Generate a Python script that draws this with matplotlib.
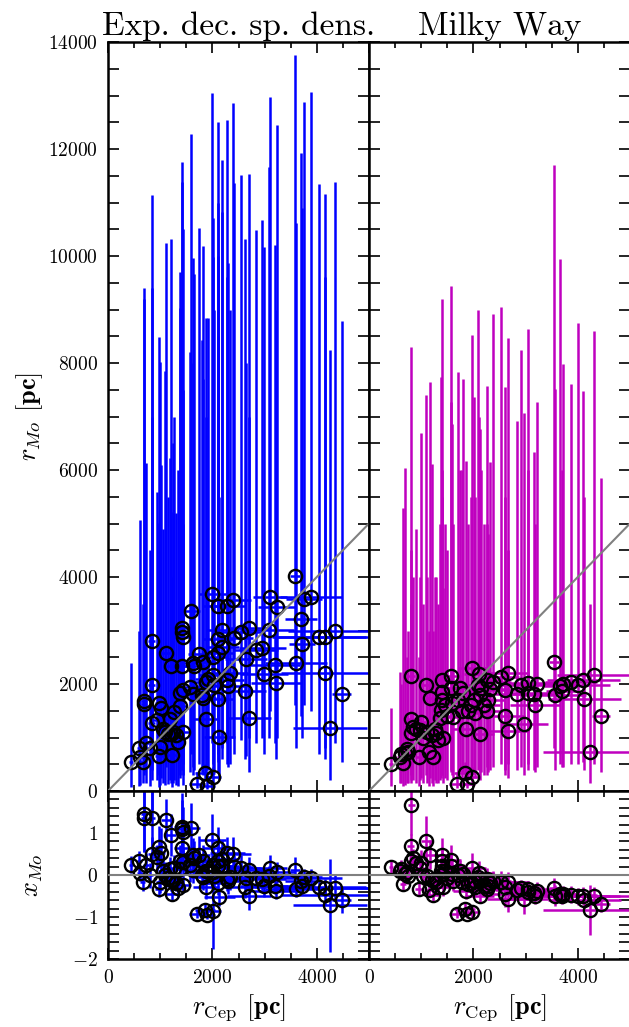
import numpy as np
import matplotlib
matplotlib.use('Agg')
from matplotlib import pyplot as plt
from matplotlib.ticker import MultipleLocator

plt.rcParams['font.family'] = 'serif'
plt.rcParams['font.serif'] = ['cmr10']
plt.rcParams['mathtext.fontset'] = 'cm'
plt.rcParams['axes.formatter.use_mathtext'] = True

# --- left panel: exponentially decaying spatial density ---
rcep_L = [441, 600, 613, 664, 690, 690, 722, 805, 837, 837,
          837, 933, 977, 983, 996, 1010, 1050, 1100, 1111, 1150,
          1188, 1201, 1207, 1220, 1250, 1265, 1300, 1348, 1380, 1380,
          1412, 1412, 1424, 1431, 1431, 1431, 1571, 1584, 1622, 1623,
          1654, 1699, 1743, 1795, 1826, 1826, 1858, 1878, 1878, 1891,
          1920, 1999, 2006, 2018, 2018, 2031, 2101, 2115, 2115, 2115,
          2133, 2190, 2190, 2274, 2287, 2305, 2338, 2388, 2421, 2549,
          2625, 2638, 2709, 2709, 2835, 2957, 2995, 3091, 3104, 3199,
          3213, 3232, 3583, 3602, 3698, 3723, 3755, 3889, 4048, 4158,
          4158, 4253, 4349, 4477]
rmo_L = [548, 798, 641, 548, 1688, 1620, 891, 798, 1265, 1975,
         2809, 1327, 654, 1639, 829, 1545, 1150, 1100, 2573, 1060,
         1346, 2336, 1059, 673, 1100, 1477, 1050, 921, 1589, 1826,
         2336, 3041, 2977, 2884, 1097, 1888, 1949, 3364, 2398, 1807,
         2342, 125, 2560, 1794, 1732, 2417, 331, 2043, 1346, 99,
         2100, 3682, 268, 2168, 2510, 1981, 1713, 3458, 2835, 2573,
         1003, 3009, 2685, 2075, 3458, 1968, 2212, 3570, 2865, 2977,
         1869, 2467, 3052, 1370, 2635, 2667, 2181, 3009, 3620, 2355,
         2024, 3433, 4024, 2398, 3209, 2747, 3583, 3632, 2884, 2884,
         2212, 1172, 2996, 1807]
top_L = [2400, 3000, 5065, 3500, 9396, 9200, 6130, 4500, 9396, 11139,
         7000, 5594, 5009, 8491, 8024, 6093, 4891, 7850, 10236, 5500,
         6218, 10311, 5220, 4000, 6500, 7000, 5200, 6000, 9022, 9706,
         8000, 11762, 11388, 10500, 5000, 7500, 8211, 12273, 9956, 8000,
         9657, 350, 10529, 8429, 7700, 10186, 500, 8835, 7000, 300,
         8835, 13040, 450, 9987, 10703, 9000, 8500, 12510, 11000, 10000,
         5500, 11793, 10828, 9613, 12541, 9862, 9000, 12853, 11357, 11513,
         10311, 8000, 11526, 7000, 10485, 10672, 10162, 11669, 12963, 10205,
         9000, 12448, 13757, 10623, 11918, 10903, 12884, 13060, 11339, 11158,
         9613, 8242, 11388, 8790]
bot_L = [80, 100, 120, 150, 300, 350, 150, 100, 200, 400,
         500, 200, 80, 300, 120, 250, 150, 120, 450, 130,
         200, 400, 150, 80, 150, 200, 120, 100, 250, 300,
         400, 600, 550, 500, 120, 300, 350, 700, 450, 300,
         400, 60, 500, 350, 300, 450, 200, 400, 250, 40,
         400, 900, 150, 400, 500, 350, 350, 1000, 700, 550,
         200, 800, 600, 500, 900, 450, 500, 1000, 700, 950,
         600, 650, 1000, 350, 900, 1000, 700, 1000, 1500, 900,
         600, 1000, 1600, 800, 1400, 1000, 1600, 1500, 700, 800,
         600, 200, 900, 550]
xerr_L = [40, 50, 50, 50, 60, 60, 60, 60, 70, 70,
          70, 80, 80, 80, 80, 90, 90, 100, 100, 100,
          100, 110, 110, 110, 120, 120, 120, 130, 140, 140,
          150, 150, 150, 150, 150, 150, 180, 180, 200, 200,
          200, 150, 220, 230, 240, 240, 200, 250, 250, 150,
          250, 260, 150, 280, 280, 280, 300, 300, 300, 300,
          300, 320, 320, 340, 340, 350, 350, 360, 360, 380,
          400, 400, 420, 420, 430, 450, 460, 480, 330, 480,
          480, 350, 100, 600, 300, 250, 350, 600, 900, 900,
          850, 700, 900, 180]
xmoerr_L = [0.2, 0.25, 0.2, 0.2, 0.9, 0.8, 0.3, 0.3, 0.4, 0.7,
            0.8, 0.3, 0.2, 0.5, 0.25, 0.6, 0.3, 0.3, 0.5, 0.2,
            0.3, 0.5, 0.25, 0.15, 0.2, 0.3, 0.2, 0.2, 0.35, 0.4,
            0.4, 0.8, 0.7, 0.6, 0.2, 0.35, 0.4, 0.6, 0.4, 0.3,
            0.4, 0.1, 0.45, 0.3, 0.3, 0.4, 0.15, 0.3, 0.3, 0.1,
            0.3, 0.6, 0.9, 0.35, 0.4, 0.3, 0.3, 0.5, 0.45, 0.4,
            0.2, 0.45, 0.4, 0.3, 0.4, 0.3, 0.3, 0.4, 0.3, 0.3,
            0.25, 0.3, 0.3, 0.35, 0.25, 0.25, 0.25, 0.25, 0.3, 0.2,
            0.2, 0.25, 0.3, 0.2, 0.2, 0.2, 0.2, 0.2, 0.2, 0.2,
            0.25, 1.1, 0.3, 0.3]

# --- right panel: Milky Way model ---
rcep_R = [415, 588, 610, 651, 684, 720, 747, 798, 811, 811,
          850, 900, 952, 971, 1003, 1030, 1100, 1120, 1150, 1175,
          1200, 1226, 1260, 1322, 1355, 1374, 1399, 1399, 1399, 1450,
          1500, 1577, 1577, 1590, 1609, 1692, 1700, 1738, 1801, 1833,
          1853, 1878, 1900, 1973, 1973, 2012, 2025, 2088, 2108, 2121,
          2121, 2152, 2200, 2266, 2266, 2280, 2325, 2376, 2523, 2600,
          2605, 2670, 2670, 2830, 2918, 2976, 3052, 3052, 3167, 3181,
          3213, 3545, 3564, 3660, 3692, 3724, 3870, 4011, 4107, 4126,
          4234, 4311, 4445, 1290, 1420, 1780, 1950]
rmo_R = [498, 641, 700, 517, 704, 780, 735, 1340, 2155, 1078,
         1200, 1150, 641, 1140, 1296, 1000, 1981, 1100, 735, 1744,
         1050, 641, 1150, 953, 1358, 1514, 2075, 1856, 1701, 1600,
         1400, 2155, 1919, 1639, 1389, 125, 1700, 1919, 1826, 331,
         1153, 125, 1500, 256, 2304, 1701, 1464, 1981, 2187, 1794,
         1071, 1919, 1600, 2075, 1501, 1701, 1900, 2031, 2125, 1402,
         1888, 2200, 1127, 1813, 1981, 1252, 2024, 1838, 1813, 1607,
         2000, 2417, 1794, 1962, 1875, 2000, 2043, 1981, 2075, 1713,
         735, 2168, 1407, 1080, 1000, 1500, 1600]
top_R = [1550, 2230, 2000, 5295, 6043, 2500, 3000, 4500, 8304, 3500,
         4000, 4891, 2500, 4000, 6685, 3500, 7401, 4000, 3000, 7650,
         6106, 3000, 4000, 3500, 5000, 7744, 9190, 6000, 5500, 5000,
         4500, 9444, 7276, 6853, 5000, 350, 7825, 6000, 7694, 550,
         6174, 350, 5000, 450, 8522, 7358, 5500, 8990, 7000, 6766,
         4000, 6000, 5000, 7575, 5000, 4800, 6155, 8915, 9040, 5500,
         7557, 8461, 4500, 6915, 8242, 7059, 8629, 6000, 6342, 5000,
         7264, 11700, 7507, 9937, 6000, 7981, 7601, 8741, 7476, 5500,
         3500, 8603, 5856, 4000, 3800, 6000, 5500]
bot_R = [100, 150, 150, 100, 120, 150, 150, 200, 300, 150,
         200, 150, 100, 200, 250, 150, 300, 150, 100, 250,
         150, 100, 200, 150, 200, 250, 350, 300, 300, 250,
         200, 400, 350, 300, 250, 60, 300, 350, 350, 200,
         200, 50, 250, 150, 400, 350, 250, 400, 450, 350,
         200, 350, 300, 450, 300, 350, 400, 450, 500, 300,
         400, 500, 250, 400, 450, 300, 500, 400, 400, 350,
         450, 800, 400, 500, 450, 450, 500, 500, 550, 400,
         150, 500, 350, 150, 150, 250, 300]
xerr_R = [40, 50, 50, 50, 60, 60, 60, 70, 70, 70,
          80, 80, 80, 90, 90, 90, 100, 100, 100, 100,
          110, 110, 120, 120, 130, 130, 140, 140, 140, 150,
          150, 180, 180, 180, 190, 150, 200, 220, 230, 200,
          240, 150, 250, 150, 260, 270, 270, 280, 280, 280,
          280, 290, 300, 310, 310, 320, 330, 340, 360, 380,
          380, 400, 400, 420, 440, 450, 460, 460, 480, 480,
          480, 100, 600, 300, 300, 300, 500, 600, 700, 700,
          900, 700, 180, 120, 140, 220, 250]
xmoerr_R = [0.15, 0.2, 0.2, 0.15, 0.2, 0.2, 0.2, 0.3, 0.7, 0.2,
            0.2, 0.2, 0.15, 0.2, 0.3, 0.2, 0.6, 0.2, 0.15, 0.35,
            0.2, 0.15, 0.2, 0.2, 0.25, 0.3, 0.4, 0.3, 0.3, 0.25,
            0.2, 0.35, 0.3, 0.3, 0.25, 0.1, 0.3, 0.25, 0.25, 0.15,
            0.2, 0.1, 0.2, 0.15, 0.35, 0.25, 0.2, 0.3, 0.3, 0.25,
            0.15, 0.2, 0.2, 0.25, 0.2, 0.2, 0.2, 0.25, 0.25, 0.3,
            0.2, 0.25, 0.3, 0.2, 0.2, 0.35, 0.2, 0.2, 0.2, 0.2,
            0.2, 0.25, 0.25, 0.2, 0.2, 0.2, 0.2, 0.2, 0.2, 0.2,
            0.6, 0.2, 0.2, 0.2, 0.2, 0.2, 0.2]

panels = [
    ('Exp. dec. sp. dens.', 'b', rcep_L, rmo_L, top_L, bot_L, xerr_L, xmoerr_L),
    ('Milky Way', 'm', rcep_R, rmo_R, top_R, bot_R, xerr_R, xmoerr_R),
]

fig = plt.figure(figsize=(6.29, 10.27), dpi=100)
W = 261 / 629.
lefts = [108 / 629., 369 / 629.]

for i, (title, col, rc, rm, top, bot, xe, xme) in enumerate(panels):
    rc = np.array(rc, float)
    rm = np.array(rm, float)
    top = np.array(top, float)
    bot = np.array(bot, float)
    xmo = rm / rc - 1.

    ax1 = fig.add_axes([lefts[i], 1 - 791 / 1027., W, 749 / 1027.])
    ax2 = fig.add_axes([lefts[i], 1 - 959 / 1027., W, 168 / 1027.])

    ax1.errorbar(rc, rm, yerr=[rm - bot, top - rm], xerr=xe, fmt='o',
                 mfc='none', mec='k', mew=1.7, ms=9.5, ecolor=col,
                 elinewidth=1.8, capsize=0, zorder=2)
    ax1.axline((0, 0), slope=1, color='0.5', lw=1.5, zorder=3)
    ax2.errorbar(rc, xmo, yerr=xme, xerr=xe, fmt='o',
                 mfc='none', mec='k', mew=1.7, ms=9.5, ecolor=col,
                 elinewidth=1.8, capsize=0, zorder=2)
    ax2.axhline(0, color='0.5', lw=1.5, zorder=3)

    ax1.set_xlim(0, 5000)
    ax1.set_ylim(0, 14000)
    ax2.set_xlim(0, 5000)
    ax2.set_ylim(-2, 2)
    ax1.set_title(title, fontsize=24, pad=5)

    for ax in (ax1, ax2):
        ax.xaxis.set_major_locator(MultipleLocator(2000))
        ax.xaxis.set_minor_locator(MultipleLocator(500))
        ax.tick_params(which='both', direction='in', top=True, right=True,
                       labelsize=14, width=1.2)
        ax.tick_params(which='major', length=8, pad=7)
        ax.tick_params(axis='x', which='minor', length=4)
        ax.tick_params(axis='y', which='minor', length=8)
        for s in ax.spines.values():
            s.set_linewidth(1.8)
    ax1.yaxis.set_major_locator(MultipleLocator(2000))
    ax1.yaxis.set_minor_locator(MultipleLocator(500))
    ax2.yaxis.set_major_locator(MultipleLocator(1))
    ax2.yaxis.set_minor_locator(MultipleLocator(0.2))
    ax2.set_yticks([-2, -1, 0, 1])
    ax1.tick_params(labelbottom=False)
    ax2.set_xlabel(r'$r_{\rm Cep}$ $\mathbf{[pc]}$', fontsize=19, labelpad=4)
    if i == 0:
        ax1.set_ylabel(r'$r_{Mo}$ $\mathbf{[pc]}$', fontsize=19)
        ax2.set_ylabel(r'$x_{Mo}$', fontsize=19)
        ax1.yaxis.set_label_coords(-0.24, 0.5)
        ax2.yaxis.set_label_coords(-0.24, 0.5)
    else:
        ax1.tick_params(labelleft=False)
        ax2.tick_params(labelleft=False)

fig.savefig('out.png', dpi=100)
